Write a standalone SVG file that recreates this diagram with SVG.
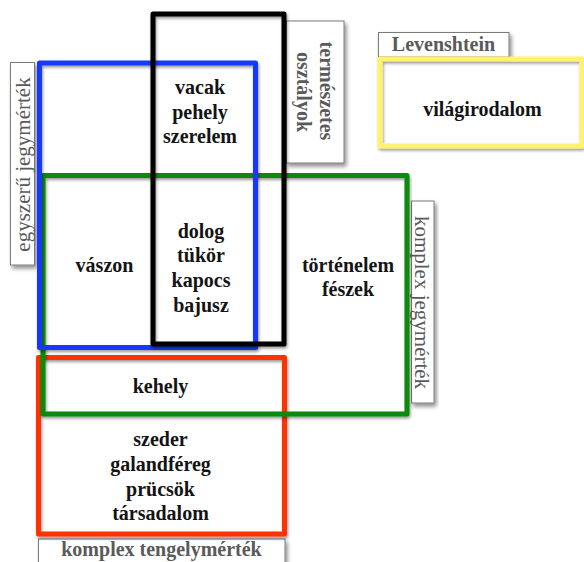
<svg xmlns="http://www.w3.org/2000/svg" width="584" height="562" viewBox="0 0 584 562">
  <defs>
    <filter id="soft" x="-10%" y="-10%" width="120%" height="120%">
      <feDropShadow dx="1" dy="2" stdDeviation="1.8" flood-color="#000" flood-opacity="0.4"/>
    </filter>
    <filter id="tag" x="-20%" y="-20%" width="140%" height="140%">
      <feDropShadow dx="2" dy="3" stdDeviation="2" flood-color="#000" flood-opacity="0.45"/>
    </filter>
  </defs>
  <style>
    .set { fill: none; stroke-width: 5; stroke-linejoin: round; filter: url(#soft); }
    .tagbox { fill: #fff; stroke: #7a7a7a; stroke-width: 1; filter: url(#tag); }
    .word { font-family: "Liberation Serif", "Times New Roman", serif; font-weight: bold; font-size: 20px; fill: #141414; text-anchor: middle; }
    .tag { font-family: "Liberation Serif", "Times New Roman", serif; font-size: 21px; fill: #5a5a5a; text-anchor: middle; }
    .tagb { font-family: "Liberation Serif", "Times New Roman", serif; font-weight: bold; font-size: 20px; fill: #5a5a5a; text-anchor: middle; }
  </style>
  <rect width="584" height="562" fill="#fff"/>

  <!-- category tags -->
  <g id="tag-egyszeru">
    <rect class="tagbox" x="10.5" y="62.5" width="24" height="202.5"/>
    <text class="tag" transform="translate(30,164.5) rotate(-90)">egyszerű jegymérték</text>
  </g>
  <g id="tag-termeszetes">
    <rect class="tagbox" x="286.5" y="21" width="57.5" height="142"/>
    <text class="tagb" transform="translate(320,91) rotate(90)">természetes</text>
    <text class="tagb" transform="translate(297,92) rotate(90)">osztályok</text>
  </g>
  <g id="tag-levenshtein">
    <rect class="tagbox" x="378.5" y="32.5" width="130.5" height="24.5"/>
    <text class="tagb" x="443.5" y="51">Levenshtein</text>
  </g>
  <g id="tag-komplex-jegy">
    <rect class="tagbox" x="411.5" y="201" width="22.5" height="202"/>
    <text class="tag" transform="translate(415,302.5) rotate(90)">komplex jegymérték</text>
  </g>
  <g id="tag-komplex-tengely">
    <rect class="tagbox" x="38.5" y="539" width="246.5" height="32"/>
    <text class="tagb" x="161.5" y="556">komplex tengelymérték</text>
  </g>

  <!-- set outlines -->
  <g id="sets">
    <rect id="set-yellow" class="set" x="380" y="59" width="202" height="87" stroke="#fff36e" stroke-width="4"/>
    <rect id="set-red" class="set" x="38.5" y="357.5" width="246" height="176.5" stroke="#ff3300"/>
    <rect id="set-green" class="set" x="43" y="175.5" width="364" height="238.5" stroke="#0b8a0b"/>
    <rect id="set-blue" class="set" x="39.5" y="63" width="216" height="284.5" stroke="#1438ff"/>
    <rect id="set-black" class="set" x="153" y="14" width="131" height="330" stroke="#000"/>
  </g>

  <!-- word groups -->
  <g id="words-top">
    <text class="word" x="200" y="94">vacak</text>
    <text class="word" x="200" y="118.5">pehely</text>
    <text class="word" x="200" y="143">szerelem</text>
  </g>
  <g id="words-center">
    <text class="word" x="201" y="237.5">dolog</text>
    <text class="word" x="201" y="262">tükör</text>
    <text class="word" x="201" y="287">kapocs</text>
    <text class="word" x="201" y="312">bajusz</text>
  </g>
  <g id="words-left">
    <text class="word" x="104.5" y="272">vászon</text>
  </g>
  <g id="words-right">
    <text class="word" x="348" y="272">történelem</text>
    <text class="word" x="348" y="296">fészek</text>
  </g>
  <g id="words-kehely">
    <text class="word" x="160.5" y="393">kehely</text>
  </g>
  <g id="words-bottom">
    <text class="word" x="160.5" y="446">szeder</text>
    <text class="word" x="160.5" y="471">galandféreg</text>
    <text class="word" x="160.5" y="496">prücsök</text>
    <text class="word" x="160.5" y="520">társadalom</text>
  </g>
  <g id="words-yellow">
    <text class="word" x="482.5" y="116">világirodalom</text>
  </g>
</svg>
